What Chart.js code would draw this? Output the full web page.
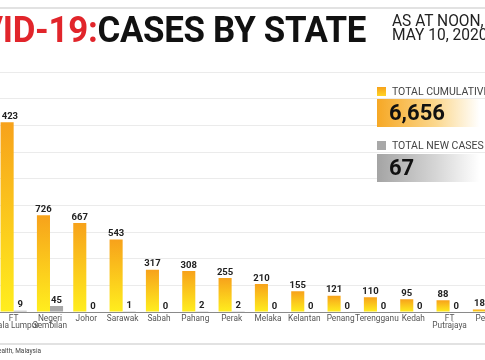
<!DOCTYPE html>
<html>
<head>
<meta charset="utf-8">
<script src="https://cdn.jsdelivr.net/npm/chart.js@4"></script>
<style>
  html, body { margin:0; padding:0; background:#fff; }
  body { width:485px; height:360px; position:relative; overflow:hidden; font-family: Roboto, "Noto Sans", sans-serif; }
  #wrap { position:absolute; left:-10px; top:0; width:530px; height:360px; }
  .topline { position:absolute; left:0; top:7px; width:485px; height:2px; background:#e2e2e2; }
  .botline { position:absolute; left:0; top:343px; width:485px; height:2px; background:#e2e2e2; }
  .title { position:absolute; right:119px; top:10px; font-weight:700; font-size:36.5px; line-height:40px; white-space:nowrap; color:#111; letter-spacing:-0.3px; transform:scaleX(0.955); transform-origin:right center; }
  .title .red { color:#e1252b; }
  .date { position:absolute; left:392px; top:14px; font-size:16.5px; line-height:14px; color:#222; white-space:nowrap; transform:scaleX(0.94); transform-origin:left center; }
  .source { position:absolute; right:444px; top:347px; font-size:6.5px; color:#444; white-space:nowrap; }
  .sq { position:absolute; width:9px; height:9px; }
  .ltext { position:absolute; left:392px; font-size:10.5px; color:#444; white-space:nowrap; }
  .box { position:absolute; left:377px; width:108px; height:28px; }
  .big { position:absolute; left:389px; font-weight:700; font-size:22px; line-height:24px; color:#111; }
</style>
</head>
<body>
<div id="wrap"><canvas id="c" width="530" height="360"></canvas></div>
<div class="topline"></div>
<div class="title"><span class="red">COVID-19:</span>CASES BY STATE</div>
<div class="date">AS AT NOON,<br>MAY 10, 2020</div>

<div class="sq" style="left:377px;top:87px;background:linear-gradient(#f7a21b,#ffd426);"></div>
<div class="ltext" style="top:85px;">TOTAL CUMULATIVE CASES</div>
<div class="box" style="top:99px;background:linear-gradient(90deg,#f6a825 0%,#fbd88f 55%,#ffffff 95%);"></div>
<div class="big" style="top:101px;">6,656</div>

<div class="sq" style="left:377px;top:141px;background:#a8a8a8;"></div>
<div class="ltext" style="top:139px;">TOTAL NEW CASES</div>
<div class="box" style="top:154px;background:linear-gradient(90deg,#a4a4a4 0%,#d6d6d6 55%,#ffffff 95%);"></div>
<div class="big" style="top:156px;">67</div>

<div class="botline"></div>
<div class="source">Source: Ministry of Health, Malaysia</div>

<script>
const states = [["FT","Kuala Lumpur"],["Negeri","Sembilan"],"Johor","Sarawak","Sabah","Pahang","Perak","Melaka","Kelantan","Penang","Terengganu","Kedah",["FT","Putrajaya"],"Perlis"];
const cumulativeCases = [1423,726,667,543,317,308,255,210,155,121,110,95,88,18];
const newCases = [9,45,0,1,0,2,2,0,0,0,0,0,0,0];
const yMax = 1800;
const yStep = 200;

function barGradient(ctx) {
  const chart = ctx.chart;
  if (!chart.chartArea) return '#f7a21b';
  const ys = chart.scales.y;
  const top = ys.getPixelForValue(ctx.raw);
  const bot = ys.getPixelForValue(0);
  if (bot - top < 1) return '#f7a21b';
  const g = chart.ctx.createLinearGradient(0, top, 0, bot);
  g.addColorStop(0, '#f7a21b');
  g.addColorStop(1, '#ffee1e');
  return g;
}

const valueLabels = {
  id: 'valueLabels',
  afterDatasetsDraw(chart) {
    const c = chart.ctx;
    c.save();
    c.font = 'bold 9.5px Roboto, sans-serif';
    c.fillStyle = '#222';
    c.textAlign = 'center';
    c.textBaseline = 'bottom';
    chart.data.datasets.forEach((ds, di) => {
      const meta = chart.getDatasetMeta(di);
      meta.data.forEach((bar, i) => {
        c.fillText(String(ds.data[i]), bar.x, bar.y - 1);
      });
    });
    c.restore();
  }
};

new Chart(document.getElementById('c'), {
  type: 'bar',
  data: {
    labels: states,
    datasets: [
      { label: 'Total cumulative cases', data: cumulativeCases, backgroundColor: barGradient, borderWidth: 0 },
      { label: 'Total new cases', data: newCases, backgroundColor: '#a8a8a8', borderWidth: 0 }
    ]
  },
  options: {
    responsive: false,
    animation: false,
    devicePixelRatio: 1,
    layout: { padding: { left: 5.5, right: 15.9, top: 72, bottom: 0 } },
    plugins: { legend: { display: false }, tooltip: { enabled: false } },
    datasets: { bar: { categoryPercentage: 0.72, barPercentage: 1.0 } },
    scales: {
      x: {
        grid: { display: false, drawTicks: false, tickLength: 0 },
        border: { display: true, color: '#8a8a8a', width: 1 },
        ticks: { autoSkip: false, maxRotation: 0, minRotation: 0, padding: 3, color: '#555', font: { family: 'Roboto', size: 8.3, lineHeight: 0.9 } },
        afterFit(s) { s.height = 48; s.paddingLeft = 0; s.paddingRight = 0; }
      },
      y: {
        min: 0, max: yMax,
        ticks: { display: false, stepSize: yStep },
        grid: { color: '#ebebeb', lineWidth: 1, drawTicks: false },
        border: { display: false },
        afterFit(s) { s.width = 0; s.paddingTop = 0; s.paddingBottom = 0; }
      }
    }
  },
  plugins: [valueLabels]
});
</script>
</body>
</html>
